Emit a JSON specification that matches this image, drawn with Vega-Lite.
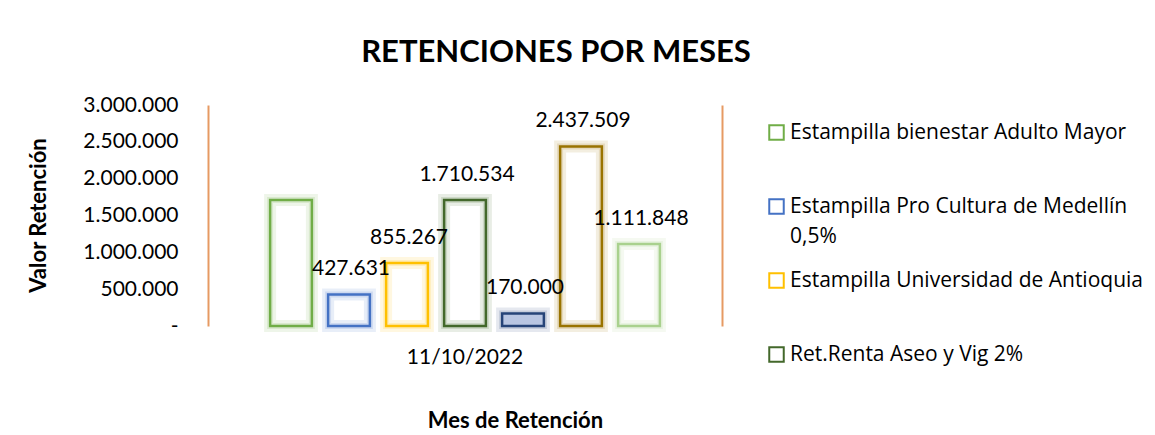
{
  "$schema": "https://vega.github.io/schema/vega-lite/v6.json",
  "width": 514,
  "height": 221,
  "autosize": {"type": "none"},
  "padding": {"left": 208, "top": 105, "right": 433, "bottom": 109},
  "background": "white",
  "title": {
    "text": "RETENCIONES POR MESES",
    "font": "Lato",
    "fontSize": 31,
    "fontWeight": "bold",
    "color": "#000000",
    "anchor": "middle",
    "dx": 91,
    "offset": 25
  },
  "data": {
    "values": [
      {"mes": "11/10/2022", "serie": "Estampilla bienestar Adulto Mayor", "valor": 1710534},
      {"mes": "11/10/2022", "serie": "Estampilla Pro Cultura de Medellín 0,5%", "valor": 427631},
      {"mes": "11/10/2022", "serie": "Estampilla Universidad de Antioquia", "valor": 855267},
      {"mes": "11/10/2022", "serie": "Ret.Renta Aseo y Vig 2%", "valor": 1710534},
      {"mes": "11/10/2022", "serie": "Ret. ICA", "valor": 170000},
      {"mes": "11/10/2022", "serie": "Ret.Renta Honorarios", "valor": 2437509},
      {"mes": "11/10/2022", "serie": "Estampilla Pro Hospitales", "valor": 1111848}
    ]
  },
  "encoding": {
    "x": {
      "field": "mes",
      "type": "nominal",
      "scale": {"paddingInner": 0, "paddingOuter": 0.133},
      "axis": {
        "title": "Mes de Retención",
        "labelAngle": 0,
        "labelFont": "Lato",
        "labelFontSize": 21,
        "labelColor": "#000000",
        "labelPadding": 20,
        "ticks": false,
        "domain": false,
        "titleFont": "Lato",
        "titleFontSize": 22,
        "titleFontWeight": "bold",
        "titleColor": "#000000",
        "titleX": 307,
        "titleY": 94,
        "titleAlign": "center",
        "titleBaseline": "middle"
      }
    },
    "xOffset": {
      "field": "serie",
      "type": "nominal",
      "sort": ["Estampilla bienestar Adulto Mayor", "Estampilla Pro Cultura de Medellín 0,5%", "Estampilla Universidad de Antioquia", "Ret.Renta Aseo y Vig 2%", "Ret. ICA", "Ret.Renta Honorarios", "Estampilla Pro Hospitales"],
      "scale": {"paddingInner": 0.28, "paddingOuter": 0.14}
    },
    "stroke": {
      "field": "serie",
      "type": "nominal",
      "scale": {
        "domain": ["Estampilla bienestar Adulto Mayor", "Estampilla Pro Cultura de Medellín 0,5%", "Estampilla Universidad de Antioquia", "Ret.Renta Aseo y Vig 2%", "Ret. ICA", "Ret.Renta Honorarios", "Estampilla Pro Hospitales"],
        "range": ["#70AD47", "#4472C4", "#FFC000", "#43682B", "#264478", "#997300", "#A9D18E"]
      },
      "legend": {
        "orient": "none",
        "legendX": 558,
        "legendY": 17,
        "title": null,
        "values": ["Estampilla bienestar Adulto Mayor", "Estampilla Pro Cultura de Medellín 0,5%", "Estampilla Universidad de Antioquia", "Ret.Renta Aseo y Vig 2%"],
        "labelExpr": "datum.label == 'Estampilla Pro Cultura de Medellín 0,5%' ? ['Estampilla Pro Cultura de Medellín', '0,5%'] : datum.label",
        "labelFont": "Open Sans",
        "labelFontSize": 21,
        "labelColor": "#000000",
        "labelLimit": 400,
        "labelOffset": 3,
        "symbolType": "square",
        "symbolSize": 210,
        "symbolStrokeWidth": 2,
        "symbolFillColor": "white",
        "symbolOpacity": 1,
        "gridAlign": "all",
        "rowPadding": 22,
        "encode": {"labels": {"update": {"lineHeight": {"value": 30}}}}
      }
    }
  },
  "layer": [
    {
      "mark": {"type": "bar", "fill": "white", "strokeWidth": 12, "strokeOpacity": 0.12},
      "encoding": {
        "y": {"field": "valor", "type": "quantitative", "scale": {"domain": [0, 3000000]},
          "axis": {
            "title": "Valor Retención",
            "values": [0, 500000, 1000000, 1500000, 2000000, 2500000, 3000000],
            "labelExpr": "datum.value == 0 ? '-' : replace(format(datum.value, ',d'), /,/g, '.')",
            "labelFont": "Lato",
            "labelFontSize": 21,
            "labelColor": "#000000",
            "labelPadding": 30,
            "ticks": false,
            "grid": false,
            "domainColor": "#E69A63",
            "domainWidth": 2,
            "titleFont": "Lato",
            "titleFontSize": 22,
            "titleFontWeight": "bold",
            "titleColor": "#000000",
            "titleX": -170,
            "titleY": 110,
            "titleAngle": -90,
            "titleAlign": "center",
            "titleBaseline": "middle"
          }
        }
      }
    },
    {
      "mark": {"type": "bar", "fill": "white", "fillOpacity": 0, "strokeWidth": 6, "strokeOpacity": 0.16},
      "encoding": {
        "y": {"field": "valor", "type": "quantitative", "scale": {"domain": [0, 3000000]}, "axis": null}
      }
    },
    {
      "mark": {"type": "bar", "strokeWidth": 2.5},
      "encoding": {
        "y": {"field": "valor", "type": "quantitative", "scale": {"domain": [0, 3000000]}, "axis": null},
        "fill": {"field": "serie", "type": "nominal", "legend": null,
          "scale": {
            "domain": ["Estampilla bienestar Adulto Mayor", "Estampilla Pro Cultura de Medellín 0,5%", "Estampilla Universidad de Antioquia", "Ret.Renta Aseo y Vig 2%", "Ret. ICA", "Ret.Renta Honorarios", "Estampilla Pro Hospitales"],
            "range": ["transparent", "transparent", "transparent", "transparent", "#B9C6E2", "transparent", "transparent"]
          }
        }
      }
    },
    {
      "transform": [{"filter": "datum.serie != 'Estampilla bienestar Adulto Mayor'"}],
      "mark": {"type": "text", "font": "Lato", "fontSize": 21, "fill": "#000000", "baseline": "middle", "dy": -25, "dx": 2},
      "encoding": {
        "y": {"field": "valor", "type": "quantitative", "scale": {"domain": [0, 3000000]},
          "axis": {"orient": "right", "labels": false, "ticks": false, "grid": false, "title": null, "domainColor": "#E69A63", "domainWidth": 2}
        },
        "text": {"field": "valor", "type": "quantitative", "format": ",d"},
        "stroke": {"value": null}
      }
    }
  ],
  "resolve": {"scale": {"y": "independent"}},
  "config": {
    "view": {"stroke": null},
    "locale": {"number": {"decimal": ",", "thousands": ".", "grouping": [3], "currency": ["$", ""]}}
  }
}
